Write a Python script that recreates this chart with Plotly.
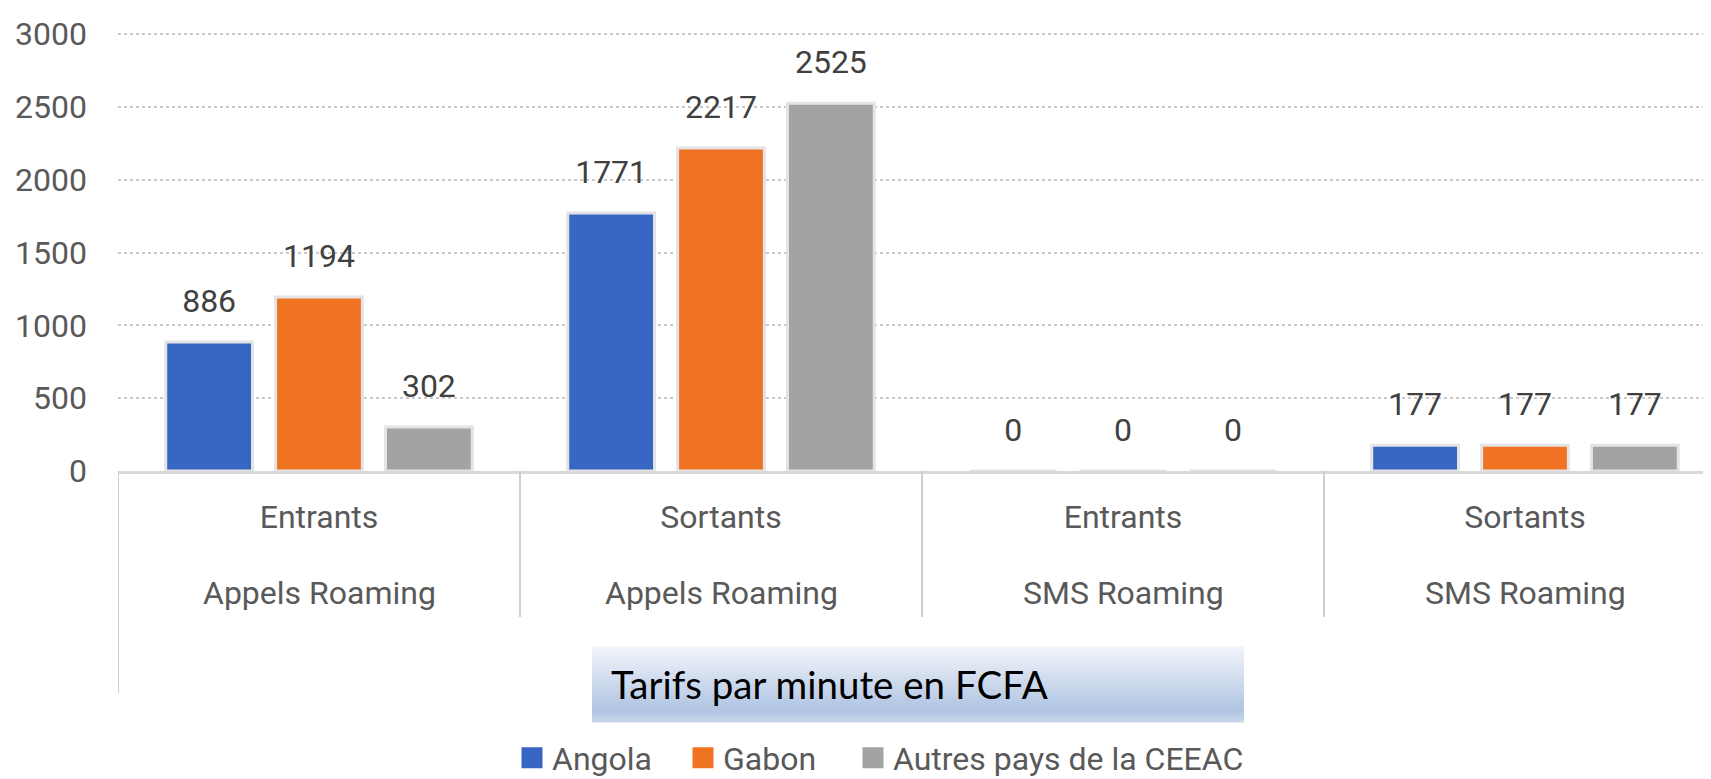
import plotly.graph_objects as go

# catégories (deux niveaux, comme dans le graphique Excel)
GROUPES = ["Appels Roaming", "Appels Roaming", "SMS Roaming", "SMS Roaming"]
SENS = ["Entrants", "Sortants", "Entrants", "Sortants"]
CATEGORIES = [f"{s} {g}" for s, g in zip(SENS, GROUPES)]

ANGOLA = [886, 1771, 0, 177]
GABON = [1194, 2217, 0, 177]
AUTRES = [302, 2525, 0, 177]

SERIES = [
    ("Angola", ANGOLA, "#3867C3"),
    ("Gabon", GABON, "#EF7323"),
    ("Autres pays de la CEEAC", AUTRES, "#A3A3A3"),
]

TITRE_AXE = "Tarifs par minute en FCFA"
Y_TICKS = [0, 500, 1000, 1500, 2000, 2500, 3000]

# la page a une marge de 8 px : la figure est décalée d'autant
PAGE_OFF = 8
W, H = 1711 - PAGE_OFF, 779 - PAGE_OFF
PLOT_LEFT, PLOT_TOP, PLOT_BOTTOM = 118, 28, 471  # repères dans la capture
Y3000 = 34  # position de la ligne 3000 dans la capture
M_L = PLOT_LEFT - PAGE_OFF
M_T = PLOT_TOP - PAGE_OFF
M_B = H - (PLOT_BOTTOM - PAGE_OFF)
PLOT_W = W - M_L
PLOT_H = H - M_T - M_B
GROUP_PX = 402  # largeur d'un groupe de catégories


def py(pix):
    # pixel vertical de la capture -> coordonnée paper
    return (PLOT_BOTTOM - pix) / PLOT_H


def px_(pix):
    return (pix - PLOT_LEFT) / PLOT_W


TEXT_COL = "#595959"
FONT = "Roboto"

fig = go.Figure()

for name, vals, col in SERIES:
    fig.add_trace(go.Bar(
        x=CATEGORIES, y=vals, name=name, offsetgroup=name,
        marker=dict(color=col, line=dict(color="#E4E4E4", width=3)),
        showlegend=False, hoverinfo="skip",
    ))

# étiquettes de données (alignées sur les barres grâce au mode "group")
for name, vals, col in SERIES:
    fig.add_trace(go.Scatter(
        x=CATEGORIES, y=vals, mode="markers+text", offsetgroup=name,
        text=[str(v) for v in vals], textposition="top center",
        textfont=dict(family=FONT, size=32, color="#404040"),
        marker=dict(size=34, color="rgba(0,0,0,0)"),
        showlegend=False, hoverinfo="skip", cliponaxis=False,
    ))

# entrées de légende (une légende par série pour garder l'espacement d'Excel)
LEG_X = [512, 683, 853]
for (name, vals, col), lid in zip(SERIES, ["legend", "legend2", "legend3"]):
    fig.add_trace(go.Scatter(
        x=[None], y=[None], mode="markers", name=name, offsetgroup=name, legend=lid,
        marker=dict(symbol="square", size=16, color=col, line=dict(color=col, width=5)),
    ))

shapes = []
# séparateurs de catégories
for i in range(len(CATEGORIES)):
    shapes.append(dict(type="line", xref="x", yref="paper", x0=i - 0.5, x1=i - 0.5,
                       y0=0, y1=py(693) if i == 0 else py(617),
                       line=dict(color="#CFCFCF", width=2)))

# cadre du titre d'axe avec dégradé
box_x0, box_x1, box_y0, box_y1 = px_(592), px_(1244), 646, 722
n = 38
top, mid, bot = (242, 245, 250), (175, 196, 226), (200, 214, 234)
for k in range(n):
    t = k / (n - 1)
    if t < 0.86:
        u = t / 0.86
        c = [round(a + (b - a) * u) for a, b in zip(top, mid)]
    else:
        u = (t - 0.86) / 0.14
        c = [round(a + (b - a) * u) for a, b in zip(mid, bot)]
    ya = box_y0 + (box_y1 - box_y0) * k / n
    yb = box_y0 + (box_y1 - box_y0) * (k + 1) / n + 0.6
    shapes.append(dict(type="rect", xref="paper", yref="paper", x0=box_x0, x1=box_x1,
                       y0=py(ya), y1=py(yb), line=dict(width=0),
                       fillcolor=f"rgb({c[0]},{c[1]},{c[2]})", layer="below"))

annotations = []
for cat, g in zip(CATEGORIES, GROUPES):
    annotations.append(dict(x=cat, xref="x", y=py(593), yref="paper", text=g,
                            showarrow=False, yanchor="middle",
                            font=dict(family=FONT, size=32, color=TEXT_COL)))
annotations.append(dict(x=px_(609), xref="paper", y=py(684), yref="paper", text=TITRE_AXE,
                        showarrow=False, xanchor="left", yanchor="middle",
                        font=dict(family="Lato", size=38.5, color="#000000")))

leg_common = dict(orientation="h", xanchor="left", y=py(758), yanchor="middle",
                  font=dict(family=FONT, size=32, color=TEXT_COL), itemsizing="trace",
                  bgcolor="rgba(0,0,0,0)")

fig.update_layout(
    width=W, height=H,
    margin=dict(l=M_L, r=0, t=M_T, b=M_B, autoexpand=False),
    paper_bgcolor="white", plot_bgcolor="white",
    barmode="group", bargap=0.18, bargroupgap=0.21,
    scattermode="group", scattergap=0.18,
    shapes=shapes, annotations=annotations,
    legend=dict(x=px_(LEG_X[0]), **leg_common),
    legend2=dict(x=px_(LEG_X[1]), **leg_common),
    legend3=dict(x=px_(LEG_X[2]), **leg_common),
    xaxis=dict(type="category", categoryarray=CATEGORIES, tickvals=CATEGORIES, ticktext=SENS,
               range=[-0.5, -0.5 + PLOT_W / GROUP_PX], showgrid=False, ticks="",
               showline=True, linecolor="#D9D9D9", linewidth=3,
               tickfont=dict(family=FONT, size=32, color=TEXT_COL), ticklabelstandoff=16),
    yaxis=dict(range=[0, 3000 * PLOT_H / (PLOT_BOTTOM - Y3000)], tickvals=Y_TICKS,
               showgrid=True, gridcolor="#CCC7CA",
               gridwidth=2, griddash="dot", zeroline=False, ticks="",
               tickfont=dict(family=FONT, size=32, color=TEXT_COL), ticklabelstandoff=30),
)

fig.write_html("out.html")
